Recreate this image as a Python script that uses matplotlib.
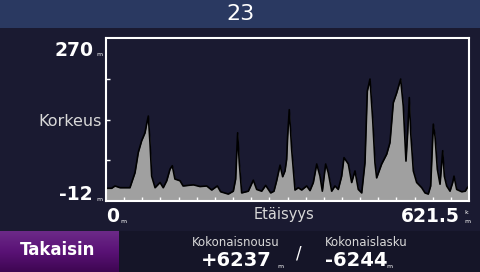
import numpy as np
import matplotlib
matplotlib.use("Agg")
import matplotlib.pyplot as plt
from matplotlib.patches import Rectangle

# Elevation profile (distance km, elevation m).
dist_km = [0, 9.7, 15.4, 24, 41, 44, 49.7, 55.3, 61, 66.8, 69.6, 72.5, 75.3, 78.2,
           84, 92.5, 98, 104, 109.6, 113.5, 118, 126.7, 132, 149.5, 161, 172.4,
           181, 190.6, 196.3, 209.4, 218, 222, 225.4, 228.2, 232.3, 243.7, 252.2,
           258, 266.5, 273.4, 282, 287.6, 292.2, 298, 302.5, 306.5, 309.3, 311,
           313.8, 317.9, 323.6, 329.3, 335, 343.6, 349.3, 355, 360.8, 366.4,
           370.4, 376.1, 380.6, 386.4, 392, 397.7, 403.5, 407.5, 414.9, 420.6,
           426.3, 432, 437.8, 443.4, 447.4, 452, 456.6, 460.5, 463.4, 472, 480.6,
           486.2, 491.9, 497.7, 504.5, 509, 513.6, 516.5, 519.3, 521.7, 526.2,
           531.9, 540.5, 546.2, 551.8, 555.9, 560.4, 563.3, 567.3, 571.9, 576.5,
           579.3, 583.3, 589, 593.6, 595.8, 600.4, 609, 615.1, 618.6, 621.5]
elev_m = [10, 10, 14, 11, 11, 20, 37, 72, 92, 106, 121, 135, 89, 31,
          11, 20, 11, 23, 43, 49, 26, 23, 14, 16, 13, 14,
          7, 14, 4, 0, 5, 26, 106, 54, 2, 5, 24,
          8, 5, 15, 2, 5, 23, 50, 30, 40, 60, 100,
          146, 77, 7, 11, 7, 14, 6, 20, 52, 31,
          5, 52, 37, 5, 14, 8, 31, 63, 52, 20,
          40, 8, 2, 54, 178, 199, 129, 54, 28, 52, 69,
          89, 158, 175, 199, 152, 57, 106, 167, 106, 40,
          20, 11, 2, 0, 14, 121, 100, 43, 17, 75,
          31, 14, 5, 20, 31, 8, 4, 5, 11, 14]

y_min, y_max = -12, 270
x_max = 621.5
title = "23"
total_up = "+6237"
total_down = "-6244"

bg = "#1a1a31"
header = "#2a3961"
W, H = 480, 272

fig = plt.figure(figsize=(W / 100, H / 100), dpi=100, facecolor=bg)

def px(x, y):
    return x / W, 1 - y / H

# Header band and bottom panel
fig.patches.append(Rectangle((0, 1 - 28 / H), 1, 28 / H, transform=fig.transFigure,
                             facecolor=header, edgecolor="none", zorder=-2))
fig.patches.append(Rectangle((0, 0), 1, 41 / H, transform=fig.transFigure,
                             facecolor="#151528", edgecolor="none", zorder=-2))

# Back button with purple gradient
bax = fig.add_axes([0, 0, 119 / W, 41 / H], zorder=2)
grad = np.linspace(0, 1, 64).reshape(-1, 1)
cmap = matplotlib.colors.LinearSegmentedColormap.from_list(
    "btn", ["#6c2a88", "#5a1276", "#3e0652"])
bax.imshow(grad, aspect="auto", cmap=cmap, extent=[0, 1, 0, 1])
bax.set_axis_off()

# Profile plot
ax = fig.add_axes([106 / W, (H - 201) / H, 363 / W, 163 / H])
ax.set_facecolor(bg)
ax.fill_between(dist_km, elev_m, y_min, color="#a0a0a0", linewidth=0)
ax.plot(dist_km, elev_m, color="black", linewidth=1.2)
ax.set_xlim(0, x_max)
ax.set_ylim(y_min, y_max)
for s in ax.spines.values():
    s.set_color("white")
    s.set_linewidth(1.5)
ax.set_xticks(np.arange(1, 20) * x_max / 20)
ax.set_yticks(y_min + np.arange(1, 4) * (y_max - y_min) / 4)
ax.tick_params(direction="in", length=3, width=1, color="white",
               labelbottom=False, labelleft=False)

white = "white"
light = "#d8d8d8"
fig.text(*px(240, 14), title, color=white, fontsize=16, ha="center", va="center")

# Axis labels
fig.text(*px(93, 50), "270", color=white, fontsize=13.5, fontweight="bold", ha="right", va="center")
fig.text(*px(96, 56), "m", color=white, fontsize=4.5, ha="left", va="baseline")
fig.text(*px(102, 122), "Korkeus", color=light, fontsize=11.5, ha="right", va="center")
fig.text(*px(93, 195), "-12", color=white, fontsize=13.5, fontweight="bold", ha="right", va="center")
fig.text(*px(96, 201), "m", color=white, fontsize=4.5, ha="left", va="baseline")
fig.text(*px(106, 216), "0", color=white, fontsize=13.5, fontweight="bold", ha="left", va="center")
fig.text(*px(120, 223), "m", color=white, fontsize=4.5, ha="left", va="baseline")
fig.text(*px(284, 214), "Etäisyys", color=light, fontsize=10.5, ha="center", va="center")
fig.text(*px(460, 216), "621.5", color=white, fontsize=13.5, fontweight="bold", ha="right", va="center")
fig.text(*px(464, 214), "k", color=white, fontsize=4.5, ha="left", va="baseline")
fig.text(*px(464, 223), "m", color=white, fontsize=4.5, ha="left", va="baseline")

# Bottom bar
fig.text(*px(58, 250), "Takaisin", color=white, fontsize=12, fontweight="bold",
         ha="center", va="center", zorder=5)
fig.text(*px(192, 243), "Kokonaisnousu", color=light, fontsize=8.5, ha="left", va="center")
fig.text(*px(272, 261), total_up, color=white, fontsize=14, fontweight="bold", ha="right", va="center")
fig.text(*px(277, 268), "m", color=white, fontsize=4.5, ha="left", va="baseline")
fig.text(*px(299, 253), "/", color=white, fontsize=12, ha="center", va="center")
fig.text(*px(325, 243), "Kokonaislasku", color=light, fontsize=8.5, ha="left", va="center")
fig.text(*px(325, 261), total_down, color=white, fontsize=14, fontweight="bold", ha="left", va="center")
fig.text(*px(386, 268), "m", color=white, fontsize=4.5, ha="left", va="baseline")

fig.savefig("out.png", dpi=100, facecolor=bg)
